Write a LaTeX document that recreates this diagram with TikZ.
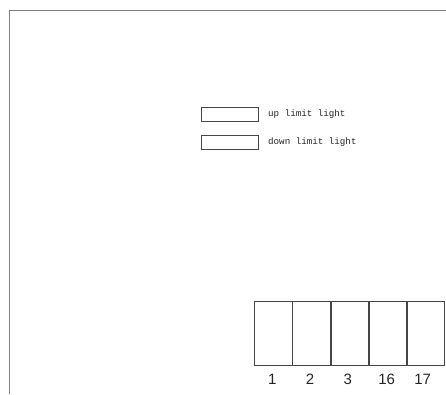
\documentclass[tikz,border=0pt]{standalone}
\usepackage{fontspec}
\setmainfont{Liberation Sans}
\newfontfamily\monof{Liberation Mono}
\definecolor{framegray}{RGB}{128,128,128}
\definecolor{linegray}{RGB}{70,70,70}
\begin{document}
\begin{tikzpicture}[x=1pt,y=-1pt,
  frameline/.style={draw=framegray,line width=1.3pt},
  lampbox/.style={draw=linegray,line width=0.7pt,minimum width=57pt,minimum height=14.5pt,inner sep=0pt},
  lamptext/.style={anchor=west,font=\monof\fontsize{9.2}{10}\selectfont,inner sep=0pt,text=black!85},
  cellbox/.style={draw=linegray,line width=0.8pt,minimum width=37.35pt,minimum height=64pt,inner sep=0pt,anchor=west},
  celllabel/.style={font=\fontsize{15}{16}\selectfont,inner sep=0pt,text=black!85}]
\useasboundingbox (0,0) rectangle (446,394);
\fill[white] (0,0) rectangle (446,394);
% frame
\coordinate (ftr) at (446,10.5);
\coordinate (ftl) at (9.5,10.5);
\coordinate (fbl) at (9.5,394);
\draw[frameline] (ftr) -- (ftl) -- (fbl);
% lamps
\node[lampbox] (up) at (230.3,114.5) {};
\node[lampbox] (down) at (230.3,142.2) {};
\node[lamptext] (uptxt) at (268,114.5) {up limit light};
\node[lamptext] (downtxt) at (268,142.5) {down limit light};
% cells
\node[cellbox] (c1) at (254.3,333) {};
\node[cellbox] (c2) at (c1.east) {};
\node[cellbox] (c3) at (c2.east) {};
\node[cellbox] (c4) at (c3.east) {};
\node[cellbox] (c5) at (c4.east) {};
\node[celllabel] (l1) at (272.3,379) {1};
\node[celllabel] (l2) at (310,379) {2};
\node[celllabel] (l3) at (347.7,379) {3};
\node[celllabel] (l4) at (386.7,379) {16};
\node[celllabel] (l5) at (422.7,379) {17};
\end{tikzpicture}
\end{document}
